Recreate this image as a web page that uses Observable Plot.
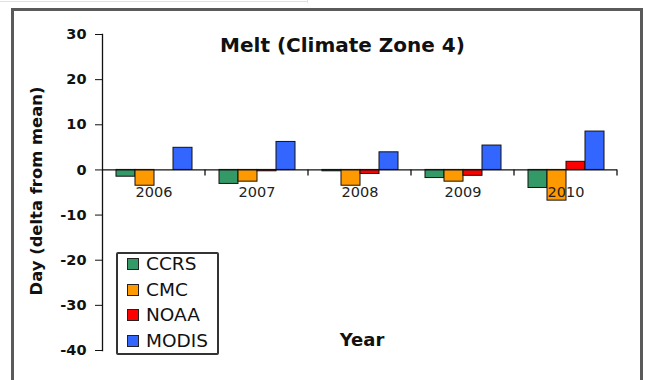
<!DOCTYPE html>
<html>
<head>
<meta charset="utf-8">
<script src="https://cdn.jsdelivr.net/npm/d3@7"></script>
<script src="https://cdn.jsdelivr.net/npm/@observablehq/plot@0.6"></script>
<style>
  body { margin: 0; background: #fff; }
  #wrap { position: relative; width: 647px; height: 380px; overflow: hidden; background: #fff; font-family: "DejaVu Sans", sans-serif; color: #111; }
  .abs { position: absolute; white-space: nowrap; }
</style>
</head>
<body>
<div id="wrap">
  <div class="abs" style="left:0;top:1px;width:307px;height:1px;background:#e2e2e2"></div>
  <div class="abs" style="left:307px;top:0;width:1px;height:3px;background:#e2e2e2"></div>
  <div class="abs" style="left:11px;top:8px;width:626px;height:420px;border:3px solid #5a5a5a"></div>
  <div id="chart" class="abs" style="left:0;top:0"></div>
  <div id="title" class="abs" style="left:0;top:35px;width:685px;text-align:center;font-size:20px;line-height:20px;font-weight:bold">Melt (Climate Zone 4)</div>
  <div id="ylab" class="abs" style="left:-113px;top:181px;width:300px;text-align:center;font-size:16.4px;line-height:20px;font-weight:bold;transform:rotate(-90deg)">Day (delta from mean)</div>
  <div id="xlab" class="abs" style="left:262px;top:330px;width:200px;text-align:center;font-size:18px;line-height:20px;font-weight:bold">Year</div>
  <div id="legend" class="abs" style="left:116px;top:252px;width:99px;height:99px;border:2px solid #333;border-radius:2px"></div>
</div>
<script>
const years = ["2006", "2007", "2008", "2009", "2010"];
const seriesNames = ["CCRS", "CMC", "NOAA", "MODIS"];
const seriesColors = ["#339966", "#ff9900", "#ff0000", "#3366ff"];
const ccrs  = [-1.5, -3.1, -0.3, -1.8, -4.0];
const cmc   = [-3.5, -2.6, -3.5, -2.6, -6.8];
const noaa  = [0.0, -0.3, -0.9, -1.3, 1.8];
const modis = [4.9, 6.2, 3.9, 5.4, 8.5];
const yTicks = [-40, -30, -20, -10, 0, 10, 20, 30];

const valuesBySeries = {CCRS: ccrs, CMC: cmc, NOAA: noaa, MODIS: modis};
const rows = years.flatMap((year, i) => seriesNames.map(s => ({year, series: s, value: valuesBySeries[s][i]})));

const ns = "http://www.w3.org/2000/svg";
function boundaryTicks(index, scales, values, dims) {
  const g = document.createElementNS(ns, "g");
  const x = dims.width - dims.marginRight;
  const y0 = scales.y(0);
  const l = document.createElementNS(ns, "line");
  l.setAttribute("x1", x); l.setAttribute("x2", x);
  l.setAttribute("y1", y0); l.setAttribute("y2", y0 + 6);
  l.setAttribute("stroke", "#111");
  l.setAttribute("stroke-width", 1.3);
  g.appendChild(l);
  return g;
}

const chart = Plot.plot({
  width: 647,
  height: 380,
  marginLeft: 100,
  marginRight: 29,
  marginTop: 34,
  marginBottom: 30,
  style: {fontFamily: "DejaVu Sans", fontSize: "14.5px", fontWeight: "bold", color: "#111", background: "transparent"},
  facet: {data: rows, x: "year"},
  fx: {domain: years, padding: 0, axis: null},
  x: {domain: seriesNames, paddingInner: 0, paddingOuter: 0.7, axis: null},
  y: {domain: [-40, 30], ticks: yTicks, tickSize: 7, tickPadding: 9, tickFormat: d => String(d), label: null},
  color: {domain: seriesNames, range: seriesColors},
  marks: [
    Plot.barY(rows, {x: "series", y: "value", fill: "series", stroke: "#111", strokeWidth: 1}),
    Plot.ruleY([0], {stroke: "#111", strokeWidth: 1.3}),
    boundaryTicks,
    Plot.frame({anchor: "left", facetAnchor: "left", stroke: "#111", strokeWidth: 1.3}),
    Plot.text(rows, {filter: d => d.series === "CCRS", y: 0, text: "year", dy: 22, fontWeight: "normal", fill: "#222", fontSize: 14.5})
  ]
});
document.getElementById("chart").appendChild(chart);

const legend = document.getElementById("wrap");
seriesNames.forEach((s, i) => {
  const cy = 264 + 25.5 * i;
  const sw = document.createElement("div");
  sw.className = "abs";
  sw.style.cssText = `left:127px;top:${cy - 6}px;width:10px;height:10px;border:1.5px solid #222;background:${seriesColors[i]}`;
  legend.appendChild(sw);
  const t = document.createElement("div");
  t.className = "abs";
  t.style.cssText = `left:146px;top:${cy - 11}px;font-size:18.5px;line-height:22px`;
  t.textContent = s;
  legend.appendChild(t);
});
</script>
</body>
</html>
